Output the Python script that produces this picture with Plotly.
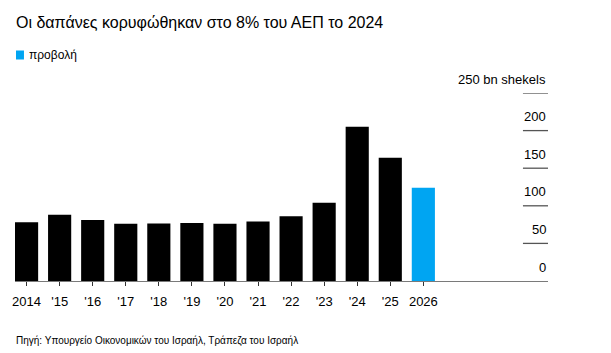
import plotly.graph_objects as go

categories = ["2014", "2015", "2016", "2017", "2018", "2019", "2020",
              "2021", "2022", "2023", "2024", "2025", "2026"]
tick_labels = ["2014", "'15", "'16", "'17", "'18", "'19", "'20",
               "'21", "'22", "'23", "'24", "'25", "2026"]
values = [78, 88, 81, 76, 76.5, 77, 76, 79, 86, 104, 205, 164, 124]
n_projection = 1

y_tickvals = [0, 50, 100, 150, 200, 250]
y_ticktext = ["0", "50", "100", "150", "200", "250 bn shekels"]

title_text = "Οι δαπάνες κορυφώθηκαν στο 8% του ΑΕΠ το 2024"
legend_text = "προβολή"
source_text = "Πηγή: Υπουργείο Οικονομικών του Ισραήλ, Τράπεζα του Ισραήλ"

BLACK = "#000000"
BLUE = "#00A5F2"
FONT = "Liberation Sans, Arial, sans-serif"

hist_x = categories[:-n_projection]
hist_y = values[:-n_projection]
proj_x = categories[-n_projection:]
proj_y = values[-n_projection:]

fig = go.Figure()
fig.add_trace(go.Bar(x=hist_x, y=hist_y, marker=dict(color=BLACK, line=dict(width=0)),
                     showlegend=False, name="actual"))
fig.add_trace(go.Bar(x=proj_x, y=proj_y, marker=dict(color=BLUE, line=dict(width=0)),
                     showlegend=False, name=legend_text))

W, H = 611, 353
ml, mr, mt, mb = 13, 63, 93, 72
PW, PH = W - ml - mr, H - mt - mb

fig.update_layout(
    width=W, height=H,
    margin=dict(l=ml, r=mr, t=mt, b=mb, pad=0),
    paper_bgcolor="white", plot_bgcolor="white",
    barmode="overlay", bargap=0.3,
    font=dict(family=FONT, color="#000000", size=12),
    showlegend=False,
)

fig.update_xaxes(
    type="category",
    categoryorder="array", categoryarray=categories,
    tickmode="array", tickvals=categories, ticktext=tick_labels,
    range=[-0.35, 15.77],
    showline=True, linecolor="#7a7a7a", linewidth=1.3,
    ticks="outside", ticklen=4, tickwidth=1, tickcolor="#333333",
    ticklabelstandoff=4,
    showgrid=False, zeroline=False,
    tickfont=dict(size=13, family=FONT, color="#000000"),
)

fig.update_yaxes(
    range=[0, 250],
    side="right",
    showticklabels=False,
    ticks="", showgrid=False, zeroline=False, showline=False,
)

# short gridline segments and labels above them
for v, t in zip(y_tickvals, y_ticktext):
    if v > 0:
        fig.add_shape(type="line", xref="x domain", yref="y",
                      x0=0.953, x1=1.0, y0=v, y1=v,
                      line=dict(color="#555555", width=1.3))
    fig.add_annotation(text=t, xref="x domain", yref="y", x=1.0, y=v,
                       xanchor="right", yanchor="middle", yshift=14,
                       showarrow=False,
                       font=dict(size=13, family=FONT, color="#000000"))

# title
fig.add_annotation(text=title_text, xref="paper", yref="paper",
                   x=-1 / PW, y=1 + (mt - 22) / PH,
                   xanchor="left", yanchor="middle", showarrow=False,
                   font=dict(size=16, family=FONT, color="#000000"))

# legend
fig.add_shape(type="rect", xref="paper", yref="paper",
              x0=(14 - ml) / PW, x1=(22 - ml) / PW,
              y0=1 + (mt - 59.5) / PH, y1=1 + (mt - 50.5) / PH,
              fillcolor=BLUE, line=dict(width=0))
fig.add_annotation(text=legend_text, xref="paper", yref="paper",
                   x=(25 - ml) / PW, y=1 + (mt - 55) / PH,
                   xanchor="left", yanchor="middle", showarrow=False,
                   font=dict(size=12, family=FONT, color="#000000"))

# source
fig.add_annotation(text=source_text, xref="paper", yref="paper",
                   x=-1 / PW, y=-(340.5 - (H - mb)) / PH,
                   xanchor="left", yanchor="middle", showarrow=False,
                   font=dict(size=10, family=FONT, color="#000000"))

fig.write_html("out.html")
